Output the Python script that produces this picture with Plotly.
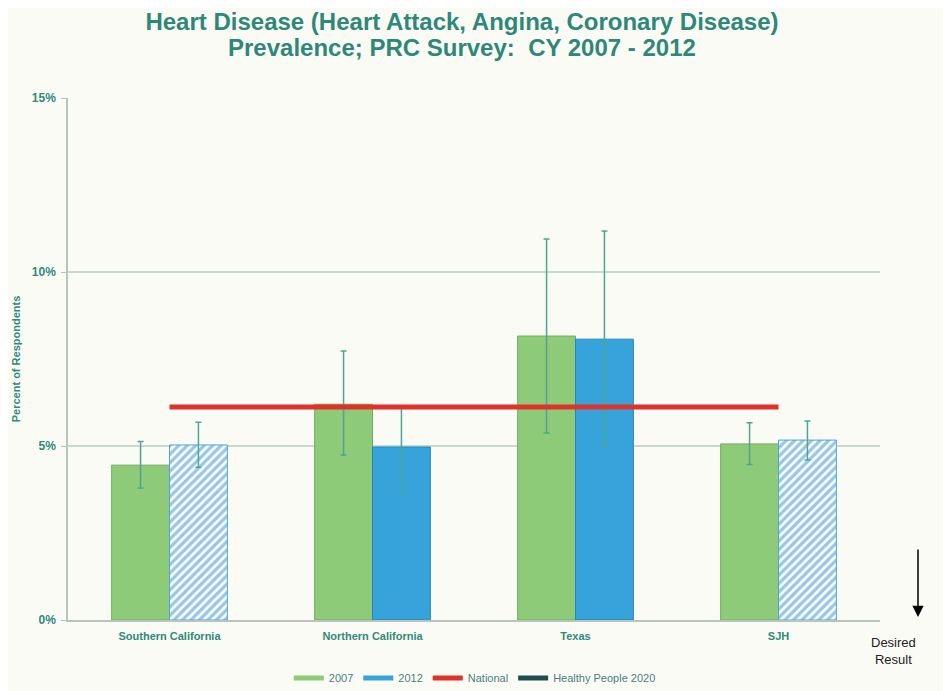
import plotly.graph_objects as go

categories = ["Southern California", "Northern California", "Texas", "SJH"]
values_2007 = [4.45, 6.2, 8.16, 5.06]
err_hi_2007 = [5.13, 7.73, 10.95, 5.67]
err_lo_2007 = [3.79, 4.74, 5.37, 4.47]
values_2012 = [5.03, 4.97, 8.07, 5.17]
err_hi_2012 = [5.68, 6.15, 11.18, 5.72]
err_lo_2012 = [4.39, 3.65, 4.97, 4.60]
hatched_2012 = [True, False, False, True]
national = [6.12, 6.12, 6.12, 6.12]
y_ticks = [0, 5, 10, 15]
y_tick_labels = ["0%", "5%", "10%", "15%"]
title_line1 = "Heart Disease (Heart Attack, Angina, Coronary Disease)"
title_line2 = "Prevalence; PRC Survey:  CY 2007 - 2012"

TEAL = "#2e8b78"
ERR = "#4fa595"
GREEN = "#8ecb78"
GREEN_LINE = "#6fae5e"
BLUE = "#36a3da"
BLUE_LINE = "#2587bd"

fig = go.Figure()

fig.add_trace(go.Bar(
    x=categories, y=values_2007, name="2007", offsetgroup="a", showlegend=False,
    marker=dict(color=GREEN, line=dict(color=GREEN_LINE, width=1)),
    error_y=dict(type="data", symmetric=False,
                 array=[h - v for h, v in zip(err_hi_2007, values_2007)],
                 arrayminus=[v - l for l, v in zip(err_lo_2007, values_2007)],
                 color=ERR, thickness=1.5, width=3),
))

solid_vals = [v if not h else None for v, h in zip(values_2012, hatched_2012)]
hatch_vals = [v if h else None for v, h in zip(values_2012, hatched_2012)]

def err_parts(vals):
    up = [None if v is None else hi - v for v, hi in zip(vals, err_hi_2012)]
    dn = [None if v is None else v - lo for v, lo in zip(vals, err_lo_2012)]
    return up, dn

su, sd = err_parts(solid_vals)
hu, hd = err_parts(hatch_vals)

fig.add_trace(go.Bar(
    x=categories, y=solid_vals, name="2012", offsetgroup="b", showlegend=False,
    marker=dict(color=BLUE, line=dict(color=BLUE_LINE, width=1)),
    error_y=dict(type="data", symmetric=False, array=su, arrayminus=sd,
                 color=ERR, thickness=1.5, width=3),
))
fig.add_trace(go.Bar(
    x=categories, y=hatch_vals, name="2012 (hatched)", offsetgroup="b",
    showlegend=False,
    marker=dict(color="white", line=dict(color="#4ea4dc", width=1),
                pattern=dict(shape="/", fgcolor="#2f8fd0", bgcolor="white",
                             size=6, solidity=0.55)),
    error_y=dict(type="data", symmetric=False, array=hu, arrayminus=hd,
                 color=ERR, thickness=1.5, width=3),
))

fig.add_trace(go.Scatter(
    x=categories, y=national, name="National", mode="lines", showlegend=False,
    line=dict(color="#e0322a", width=5),
))

# legend-only entries
legend_items = [("2007", GREEN), ("2012", BLUE), ("National", "#e0322a"),
                ("Healthy People 2020", "#1e4d4d")]
for nm, col in legend_items:
    fig.add_trace(go.Scatter(
        x=[categories[0]], y=[None], name=nm, mode="lines",
        line=dict(color=col, width=5), showlegend=True,
    ))

title_font = dict(family="Liberation Sans, Arial", size=24, color="#2e8878", weight="bold")

fig.update_layout(
    width=943, height=683,
    paper_bgcolor="#fbfbf6", plot_bgcolor="#fbfbf6",
    margin=dict(l=60, r=71, t=90, b=71),
    barmode="group", bargap=0.43, bargroupgap=0,
    title=dict(
        text=title_line1,
        x=454 / 943, xanchor="center", y=1 - 14 / 683, yanchor="middle",
        font=title_font,
    ),
    font=dict(family="Liberation Sans, Arial", color=TEAL),
    xaxis=dict(
        showline=True, linecolor="#b8c4bc", linewidth=1.5,
        tickfont=dict(size=11, color=TEAL, weight="bold"),
        ticks="", showgrid=False, ticklabelstandoff=5,
    ),
    yaxis=dict(
        range=[0, 15], tickvals=y_ticks, ticktext=y_tick_labels,
        showline=True, linecolor="#b8c4bc", linewidth=1.5,
        gridcolor="#c9d9cf", gridwidth=1.5,
        ticks="outside", ticklen=5, tickcolor="#b8c4bc",
        tickfont=dict(size=12, color=TEAL, weight="bold"),
        ticklabelstandoff=3,
        title=dict(text="Percent of Respondents", standoff=9,
                   font=dict(size=11, color=TEAL, weight="bold")),
        zeroline=False, automargin=False,
    ),
    legend=dict(
        orientation="h", x=0.501, xanchor="center",
        yref="container", y=1 - 670 / 683, yanchor="middle",
        font=dict(size=11, color="#4a8080"), bgcolor="rgba(0,0,0,0)",
        traceorder="normal", itemwidth=30,
    ),
    showlegend=True,
)

# second title line
fig.add_annotation(
    xref="paper", yref="paper",
    x=(462 - 68) / 812, y=1 + (98 - 47) / 522, yanchor="middle",
    text=title_line2, showarrow=False, font=title_font,
)

# Desired result arrow and text
fig.add_annotation(
    xref="paper", yref="paper",
    x=(918 - 68) / 812, y=(620 - 617) / 522,
    ax=0, ay=-69, axref="pixel", ayref="pixel",
    text="", showarrow=True, arrowhead=2, arrowsize=1.5, arrowwidth=1.5,
    arrowcolor="black",
)
fig.add_annotation(
    xref="paper", yref="paper",
    x=(918 - 68) / 812, y=-(633 - 620) / 522, yanchor="top",
    text="Desired<br>Result", showarrow=False,
    font=dict(size=13, color="#222222", family="Liberation Sans, Arial"),
)

fig.write_html("out.html")
